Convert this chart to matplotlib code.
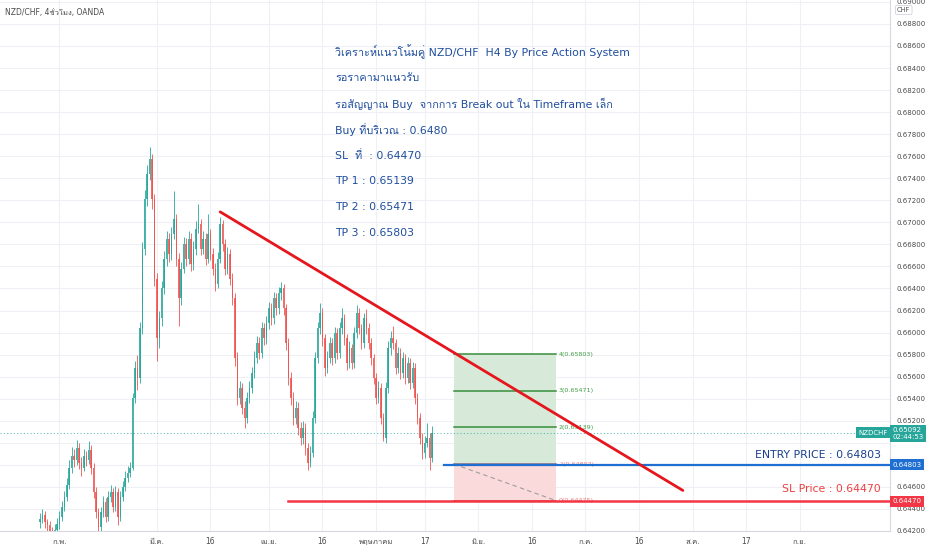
# NZD/CHF 4h chart with descending trendline and long setup (TradingView style)
import numpy as np
import matplotlib
matplotlib.use("Agg")
import matplotlib.pyplot as plt
from matplotlib import font_manager, ft2font

# ---- data ---------------------------------------------------------------
start_date = "2021-01-26"          # first candle (12h bars, 2 per weekday)
first_open = 0.64280
closes = [
    0.64306, 0.64342, 0.64279, 0.64252, 0.64198, 0.64180, 0.64207, 0.64261, 0.64324, 0.64414,
    0.64505, 0.64613, 0.64775, 0.64884, 0.64848, 0.64956, 0.64820, 0.64775, 0.64884, 0.64848,
    0.64938, 0.64775, 0.64550, 0.64369, 0.64234, 0.64369, 0.64459, 0.64324, 0.64505, 0.64550,
    0.64414, 0.64550, 0.64324, 0.64505, 0.64595, 0.64685, 0.64730, 0.64775, 0.65407, 0.65678,
    0.65588, 0.66039, 0.66761, 0.67212, 0.67438, 0.67573, 0.67212, 0.66490, 0.65949, 0.66129,
    0.66400, 0.66671, 0.66851, 0.66716, 0.66896, 0.67032, 0.66671, 0.66310, 0.66580, 0.66806,
    0.66671, 0.66851, 0.66625, 0.66761, 0.66941, 0.66986, 0.66761, 0.66851, 0.66671, 0.66896,
    0.66716, 0.66580, 0.66445, 0.66671, 0.66986, 0.66806, 0.66580, 0.66716, 0.66490, 0.66310,
    0.65768, 0.65407, 0.65497, 0.65317, 0.65227, 0.65407, 0.65497, 0.65633, 0.65768, 0.65903,
    0.65813, 0.66039, 0.65949, 0.66084, 0.66219, 0.66129, 0.66310, 0.66219, 0.66355, 0.66400,
    0.66219, 0.65903, 0.65588, 0.65407, 0.65227, 0.65317, 0.65136, 0.65046, 0.65136, 0.64956,
    0.64820, 0.64911, 0.65227, 0.65768, 0.66039, 0.66174, 0.65949, 0.65678, 0.65768, 0.65903,
    0.65768, 0.65994, 0.65813, 0.66039, 0.66129, 0.65949, 0.65723, 0.65858, 0.65723, 0.65994,
    0.66174, 0.66039, 0.65903, 0.66129, 0.66039, 0.65903, 0.65768, 0.65588, 0.65407, 0.65497,
    0.65227, 0.65046, 0.65497, 0.65858, 0.65949, 0.65903, 0.65678, 0.65813, 0.65633, 0.65768,
    0.65588, 0.65723, 0.65542, 0.65678, 0.65407, 0.65227, 0.65046, 0.64911, 0.65001, 0.65046,
    0.64866, 0.65092,
]
highs = [
    0.64360, 0.64400, 0.64380, 0.64310, 0.64290, 0.64240, 0.64260, 0.64320, 0.64380, 0.64470,
    0.64560, 0.64680, 0.64840, 0.64960, 0.64940, 0.65030, 0.65000, 0.64870, 0.64940, 0.64930,
    0.65020, 0.64980, 0.64820, 0.64600, 0.64410, 0.64420, 0.64520, 0.64500, 0.64560, 0.64620,
    0.64590, 0.64610, 0.64590, 0.64560, 0.64650, 0.64740, 0.64790, 0.64830, 0.65450, 0.65740,
    0.65800, 0.66100, 0.66820, 0.67290, 0.67520, 0.67681, 0.67620, 0.67260, 0.66540, 0.66200,
    0.66470, 0.66740, 0.66920, 0.66900, 0.66960, 0.67284, 0.67080, 0.66720, 0.66640, 0.66870,
    0.66860, 0.66920, 0.66900, 0.66830, 0.67010, 0.67167, 0.67030, 0.66920, 0.66900, 0.67077,
    0.66940, 0.66770, 0.66630, 0.66730, 0.67050, 0.67020, 0.66850, 0.66780, 0.66760, 0.66540,
    0.66360, 0.65820, 0.65560, 0.65540, 0.65380, 0.65460, 0.65560, 0.65690, 0.65830, 0.65970,
    0.65960, 0.66100, 0.66090, 0.66150, 0.66280, 0.66270, 0.66370, 0.66360, 0.66410, 0.66463,
    0.66440, 0.66260, 0.65950, 0.65640, 0.65460, 0.65380, 0.65370, 0.65190, 0.65200, 0.65180,
    0.65000, 0.64970, 0.65290, 0.65820, 0.66100, 0.66264, 0.66220, 0.65990, 0.65830, 0.65960,
    0.65950, 0.66050, 0.66040, 0.66100, 0.66219, 0.66170, 0.65990, 0.65920, 0.65900, 0.66050,
    0.66246, 0.66220, 0.66080, 0.66180, 0.66210, 0.66090, 0.65950, 0.65810, 0.65630, 0.65560,
    0.65540, 0.65270, 0.65550, 0.65920, 0.66010, 0.66057, 0.65940, 0.65870, 0.65860, 0.65820,
    0.65810, 0.65780, 0.65770, 0.65730, 0.65720, 0.65450, 0.65270, 0.65090, 0.65060, 0.65180,
    0.65090, 0.65150,
]
lows = [
    0.64230, 0.64270, 0.64230, 0.64200, 0.64150, 0.64120, 0.64140, 0.64170, 0.64220, 0.64290,
    0.64380, 0.64470, 0.64580, 0.64730, 0.64780, 0.64800, 0.64760, 0.64700, 0.64740, 0.64790,
    0.64810, 0.64720, 0.64500, 0.64320, 0.64190, 0.64200, 0.64330, 0.64280, 0.64290, 0.64460,
    0.64370, 0.64380, 0.64250, 0.64290, 0.64470, 0.64560, 0.64640, 0.64690, 0.64750, 0.65360,
    0.65480, 0.65540, 0.65990, 0.66700, 0.67150, 0.67380, 0.67120, 0.66420, 0.65741, 0.65860,
    0.66060, 0.66350, 0.66600, 0.66640, 0.66660, 0.66850, 0.66600, 0.66057, 0.66250, 0.66540,
    0.66600, 0.66620, 0.66560, 0.66570, 0.66700, 0.66900, 0.66700, 0.66710, 0.66610, 0.66630,
    0.66660, 0.66520, 0.66380, 0.66400, 0.66630, 0.66740, 0.66520, 0.66530, 0.66430, 0.66250,
    0.65700, 0.65340, 0.65350, 0.65260, 0.65136, 0.65180, 0.65360, 0.65450, 0.65590, 0.65720,
    0.65760, 0.65770, 0.65890, 0.65900, 0.66030, 0.66070, 0.66080, 0.66160, 0.66170, 0.66300,
    0.66160, 0.65840, 0.65520, 0.65340, 0.65160, 0.65170, 0.65070, 0.64980, 0.64990, 0.64890,
    0.64757, 0.64780, 0.64870, 0.65180, 0.65720, 0.65990, 0.65880, 0.65610, 0.65630, 0.65720,
    0.65710, 0.65720, 0.65760, 0.65770, 0.65990, 0.65890, 0.65660, 0.65680, 0.65670, 0.65680,
    0.65950, 0.65990, 0.65850, 0.65860, 0.65990, 0.65850, 0.65710, 0.65530, 0.65350, 0.65360,
    0.65170, 0.65019, 0.65000, 0.65450, 0.65800, 0.65850, 0.65620, 0.65630, 0.65580, 0.65590,
    0.65530, 0.65540, 0.65490, 0.65500, 0.65350, 0.65170, 0.64990, 0.64850, 0.64860, 0.64960,
    0.64757, 0.64830,
]

tick_dates = ["2021-02-01", "2021-03-01", "2021-03-16", "2021-04-01", "2021-04-16",
              "2021-05-03", "2021-05-17", "2021-06-01", "2021-06-16", "2021-07-01",
              "2021-07-16", "2021-08-02", "2021-08-17", "2021-09-01"]
tick_labels = ["ก.พ.", "มี.ค.", "16", "เม.ย.", "16", "พฤษภาคม", "17", "มิ.ย.",
               "16", "ก.ค.", "16", "ส.ค.", "17", "ก.ย."]

trend_dates = ["2021-03-18", "2021-07-29"]
trend_prices = [0.67095, 0.64568]

entry_price = 0.64803
sl_price = 0.64470
last_price = 0.65092
last_timer = "02:44:53"
entry_start = "2021-05-21"
sl_start = "2021-04-07"

fib_dates = ["2021-05-25", "2021-06-23"]
fib_levels = [0, 1, 2, 3, 4]
fib_prices = [0.64475, 0.64807, 0.65139, 0.65471, 0.65803]

chart_title = "NZD/CHF, 4ชั่วโมง, OANDA"
note_lines = [
    "วิเคราะห์แนวโน้มคู่ NZD/CHF  H4 By Price Action System",
    "รอราคามาแนวรับ",
    "รอสัญญาณ Buy  จากการ Break out ใน Timeframe เล็ก",
    "Buy ที่บริเวณ : 0.6480",
    "SL  ที่  : 0.64470",
    "TP 1 : 0.65139",
    "TP 2 : 0.65471",
    "TP 3 : 0.65803",
]


# ---- fonts: DejaVu for latin, any installed font with Thai glyphs as fallback
def find_thai_font():
    for f in font_manager.fontManager.ttflist:
        try:
            if 0x0E01 in ft2font.FT2Font(f.fname).get_charmap():
                return f.name
        except Exception:
            pass
    return None


thai_font = find_thai_font()
families = ["DejaVu Sans"] + ([thai_font] if thai_font else [])
plt.rcParams["font.family"] = families


def bday(d):
    return np.busday_count(start_date, d)


# ---- figure ---------------------------------------------------------------
fig = plt.figure(figsize=(9.32, 5.5), dpi=100)
ax = fig.add_axes([0, 19 / 550, 890 / 932, 531 / 550])

closes = np.array(closes)
opens = np.r_[first_open, closes[:-1]]
x = np.arange(len(closes)) * 0.5
colors = np.where(closes >= opens, "#26a69a", "#ef5350")
ax.vlines(x, lows, highs, colors=colors, lw=0.7, alpha=0.85, zorder=3)
ax.bar(x, np.maximum(np.abs(closes - opens), 0.00003), bottom=np.minimum(opens, closes),
       width=0.3, color=colors, linewidth=0, alpha=0.85, zorder=3)

# long position boxes and fib levels
fx0, fx1 = bday(fib_dates[0]), bday(fib_dates[1])
ax.fill_between([fx0, fx1], fib_prices[1], fib_prices[4], color="#d7ead9", lw=0, zorder=1)
ax.fill_between([fx0, fx1], fib_prices[0], fib_prices[1], color="#fadada", lw=0, zorder=1)
ax.plot([fx0, fx1], [fib_prices[1], fib_prices[0]], color="#9e9e9e", lw=0.8,
        ls=(0, (4, 3)), zorder=2)
for lvl, p in zip(fib_levels, fib_prices):
    c = "#f08080" if lvl < 2 else "#43a047"
    lc = "#8d6e7e" if lvl == 1 else ("#e53935" if lvl == 0 else "#388e3c")
    ax.plot([fx0, fx1], [p, p], color=lc, lw=1.1, zorder=2)
    ax.annotate(f"{lvl}({p:.5f})", (fx1, p), xytext=(2, 0), textcoords="offset points",
                fontsize=4.6, color=c, va="center", ha="left", zorder=2)

# entry / stop lines
ax.plot([bday(entry_start), 400], [entry_price, entry_price], color="#1e6fd1", lw=1.6, zorder=4)
ax.plot([bday(sl_start), 400], [sl_price, sl_price], color="#f23645", lw=1.8, zorder=4)
ax.axhline(last_price, color="#26a69a", lw=0.8, ls=(0, (1, 2)), alpha=0.7, zorder=1)

# trendline
ax.plot([bday(d) for d in trend_dates], trend_prices, color="#e5161d", lw=2, zorder=5,
        solid_capstyle="round")

# axes
ax.set_xlim(-40 / 4.87, 850 / 4.87)
ax.set_ylim(0.64225, 0.69017)
ax.set_xticks([bday(d) for d in tick_dates])
ax.set_xticklabels(tick_labels)
yticks = np.arange(0.642, 0.6901, 0.002)
ax.set_yticks(yticks)
# labels hidden behind the entry and last-price tags are left blank
covered = [entry_price, last_price]
ax.set_yticklabels(["" if min(abs(t - c) for c in covered) < 0.001 else f"{t:.5f}"
                    for t in yticks])
ax.yaxis.tick_right()
ax.tick_params(axis="y", length=0, pad=5, labelsize=5, labelcolor="#4a4a4a")
ax.tick_params(axis="x", length=0, pad=4, labelsize=5.5, labelcolor="#4a4a4a")
ax.grid(True, color="#eef0f5", lw=0.8, zorder=0)
ax.set_axisbelow(True)
for s in ["top", "left"]:
    ax.spines[s].set_visible(False)
for s in ["right", "bottom"]:
    ax.spines[s].set_color("#d6d9e0")
    ax.spines[s].set_linewidth(0.8)

# texts
ax.text(0.006, 1 - 13 / 531, chart_title, transform=ax.transAxes, fontsize=5.5,
        color="#4a4a4a", va="center")
for i, line in enumerate(note_lines):
    ax.text(335 / 890, 1 - (52 + 25.9 * i) / 531, line, transform=ax.transAxes,
            fontsize=7.8, color="#1f4e9e", va="center")
ax.text(0.99, 1 - 455 / 531, f"ENTRY PRICE : {entry_price:.5f}", transform=ax.transAxes,
        fontsize=7.8, color="#1a3f8f", ha="right", va="center")
ax.text(0.99, 1 - 489 / 531, f"SL Price : {sl_price:.5f}", transform=ax.transAxes,
        fontsize=7.8, color="#ef4040", ha="right", va="center")

# price tags on the scale
yt = ax.get_yaxis_transform()
tag = dict(fontsize=5, color="white", va="center", ha="left", clip_on=False, zorder=6)
ax.text(1.003, entry_price, f"{entry_price:.5f}", transform=yt,
        bbox=dict(boxstyle="square,pad=0.35", fc="#1e6fd1", ec="none"), **tag)
ax.text(1.003, sl_price, f"{sl_price:.5f}", transform=yt,
        bbox=dict(boxstyle="square,pad=0.35", fc="#f23645", ec="none"), **tag)
ax.text(1.003, last_price - 0.00009, f"{last_price:.5f}\n{last_timer}", transform=yt,
        linespacing=1.1, bbox=dict(boxstyle="square,pad=0.35", fc="#26a69a", ec="none"), **tag)
ax.text(0.997, last_price, "NZDCHF", transform=yt, fontsize=5, color="white", va="center",
        ha="right", clip_on=False, zorder=6,
        bbox=dict(boxstyle="square,pad=0.35", fc="#26a69a", ec="none"))
ax.text(1.008, 1 - 10 / 531, "CHF", transform=ax.transAxes, fontsize=4.8, color="#555555",
        va="center", ha="left", clip_on=False, zorder=6,
        bbox=dict(boxstyle="round,pad=0.25", fc="white", ec="#c8cbd2", lw=0.5))

fig.savefig("out.png", dpi=100)
